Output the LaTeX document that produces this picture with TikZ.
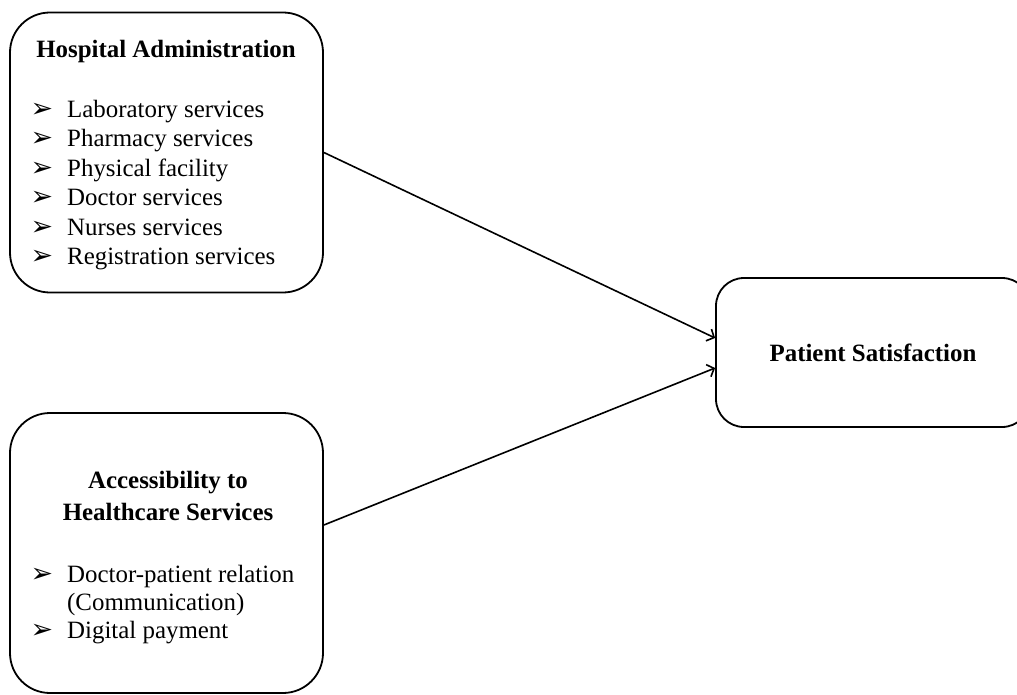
\documentclass[tikz,border=0pt]{standalone}
\usepackage{fontspec}
\setmainfont{Liberation Serif}
\newfontfamily\symfont{DejaVu Sans}
\usetikzlibrary{arrows.meta}
% arrowhead bullet placed to the left of a list entry
\newcommand\bulletmark{\makebox[0pt][r]{{\symfont\fontsize{27}{27}\selectfont ➢}\hspace{14bp}}}
\begin{document}
\begin{tikzpicture}[x=1bp,y=-1bp,
  box/.style={draw, line width=1.8bp, rounded corners=40bp, minimum width=313bp, minimum height=280bp, inner sep=0pt},
  target/.style={draw, line width=1.8bp, rounded corners=28bp, minimum width=314bp, minimum height=149bp, inner sep=0pt,
    font=\fontsize{25}{28}\selectfont\bfseries},
  txt/.style={font=\fontsize{25}{28}\selectfont, inner sep=0pt, anchor=base west},
  head/.style={font=\fontsize{25}{28}\selectfont\bfseries, inner sep=0pt, anchor=base},
  link/.style={line width=1.6bp, -{Straight Barb[length=6bp,width=13bp,line width=1.6bp]}}
]
\clip (0,0) rectangle (1017,695);

% outer frames
\node[box] (ha) at (166.5,152.5) {};
\node[box] (acc) at (166.5,553) {};
\node[target] (ps) at (873,352.5) {Patient Satisfaction};

% hospital administration
\node[head] (hah) at (166,58) {Hospital Administration};
\foreach \t [count=\i] in {Laboratory services, Pharmacy services, Physical facility,
    Doctor services, Nurses services, Registration services}
  \node[txt] (ha\i) at (67,{117.3+(\i-1)*29.5}) {\bulletmark\t};

% accessibility
\node[head] (acch1) at (168,488) {Accessibility to};
\node[head] (acch2) at (168,520) {Healthcare Services};
\node[txt] (acc1) at (67,582) {\bulletmark Doctor-patient relation};
\node[txt] (acc2) at (67,610) {(Communication)};
\node[txt] (acc3) at (67,638) {\bulletmark Digital payment};

% links
\draw[link] (ha.east) -- ([yshift=14.5bp]ps.west);
\draw[link] ([yshift=28bp]acc.east) -- ([yshift=-15.5bp]ps.west);
\end{tikzpicture}
\end{document}
